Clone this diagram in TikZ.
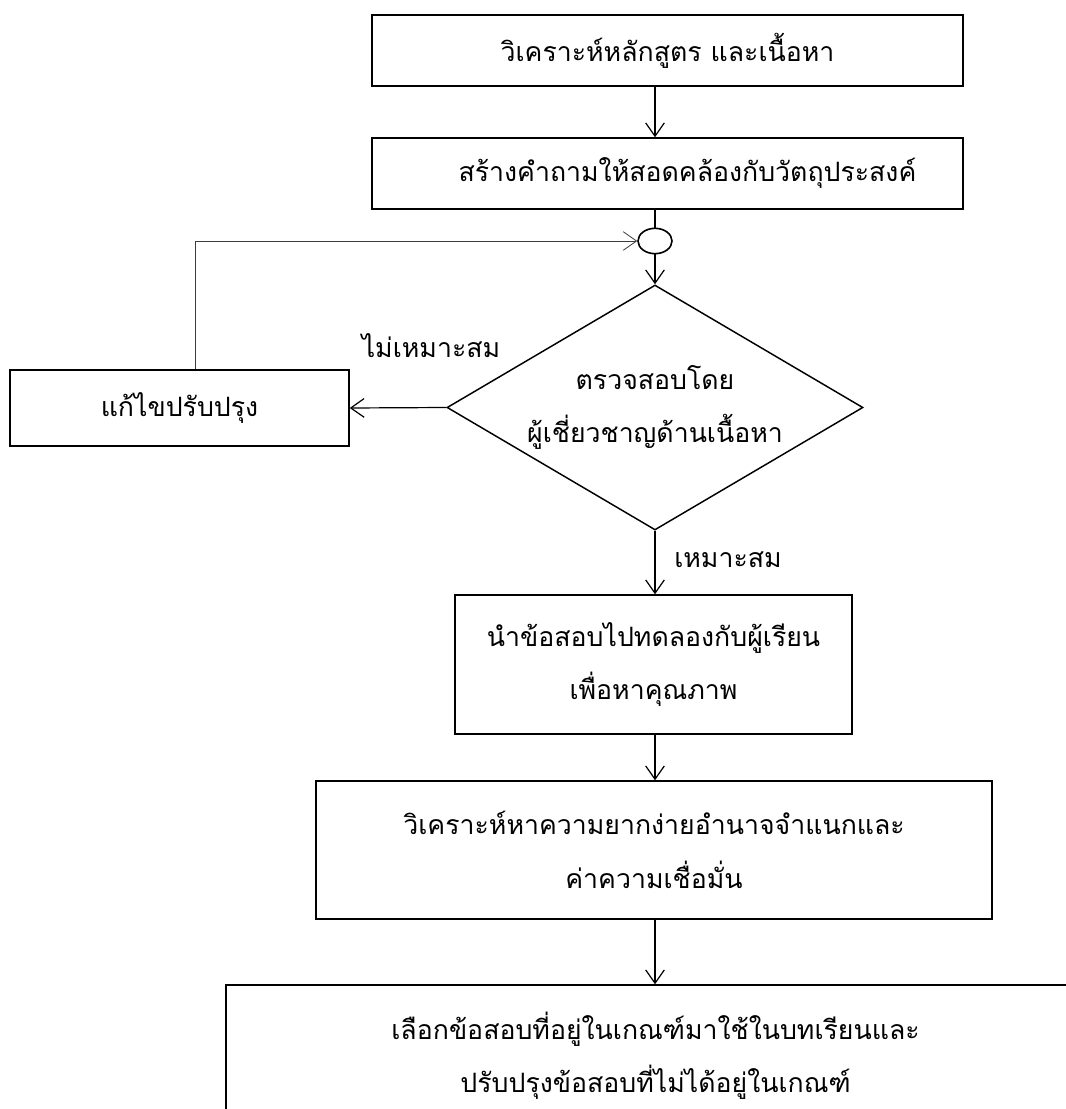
\documentclass[tikz,border=0pt]{standalone}
\usepackage{fontspec}
\newfontfamily\thaifont[Script=Thai]{Loma}
\usetikzlibrary{shapes.geometric,arrows.meta}

\tikzset{every picture/.style={line width=0.75pt}}
\tikzset{
  box/.style={draw, line width=1.1pt, rectangle, inner sep=0pt, align=center,
    font=\thaifont\fontsize{20}{40}\selectfont},
  lbl/.style={inner sep=0.75pt, font=\thaifont\fontsize{20}{40}\selectfont},
  arr/.style={line width=0.9pt, -{Straight Barb[length=10pt,width=14pt,line width=0.9pt]}},
  back/.style={line width=0.6pt, color={rgb, 255:red, 60; green, 60; blue, 60},
    -{Straight Barb[length=10pt,width=14pt,line width=0.6pt]}}
}

\begin{document}
\begin{tikzpicture}[x=0.75pt,y=0.75pt,yscale=-1,xscale=1]
\clip (0,0) rectangle (1066,1109);
\fill[white] (0,0) rectangle (1066,1109);

%Shape: Rectangle
\node [box, minimum width=443.25pt, minimum height=53.25pt] (anal) at (667.5,50.5) {วิเคราะห์หลักสูตร และเนื้อหา};
%Shape: Rectangle
\node [box, minimum width=443.25pt, minimum height=53.25pt] (make) at (667.5,173.5) {\hspace*{30pt}สร้างคำถามให้สอดคล้องกับวัตถุประสงค์};
%Shape: Circle
\node [draw, ellipse, line width=1.2pt, minimum width=25.5pt, minimum height=19pt, inner sep=0pt] (join) at (655,241) {};
%Shape: Diamond
\node [box, diamond, aspect=1.7, minimum width=312pt, minimum height=183.75pt] (check) at (655,407.5) {ตรวจสอบโดย\\ผู้เชี่ยวชาญด้านเนื้อหา};
%Shape: Rectangle
\node [box, minimum width=254.25pt, minimum height=57pt] (fix) at (179.5,408) {แก้ไขปรับปรุง};
%Shape: Rectangle
\node [box, minimum width=297.75pt, minimum height=104.25pt] (try) at (653.5,664.5) {นำข้อสอบไปทดลองกับผู้เรียน\\เพื่อหาคุณภาพ};
%Shape: Rectangle
\node [box, minimum width=507pt, minimum height=103.5pt] (item) at (654,850) {วิเคราะห์หาความยากง่ายอำนาจจำแนกและ\\ค่าความเชื่อมั่น};
%Shape: Rectangle
\node [box, minimum width=644.25pt, minimum height=106.5pt] (pick) at (655.5,1056) {เลือกข้อสอบที่อยู่ในเกณฑ์มาใช้ในบทเรียนและ\\ปรับปรุงข้อสอบที่ไม่ได้อยู่ในเกณฑ์};

\coordinate (turn) at (195,241);

%Straight Lines
\draw [arr] (anal.south -| join) -- (make.north -| join);
\draw [line width=0.9pt] (make.south -| join) -- (join.north);
\draw [arr] (join.south) -- (check.north);
\draw [arr] (check.west) -- (fix.east);
\draw [back] (fix.north -| turn) -- (turn) -- (join.west);
\draw [arr] (check.south) -- (try.north -| check);
\draw [arr] (try.south -| check) -- (item.north -| check);
\draw [arr] (item.south -| check) -- (pick.north -| check);

% Text Node
\node [lbl] (no) at (431,346) {ไม่เหมาะสม};
% Text Node
\node [lbl] (yes) at (728,560) {เหมาะสม};

\end{tikzpicture}
\end{document}
